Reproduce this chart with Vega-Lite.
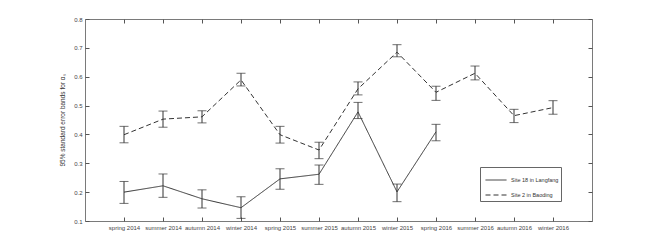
{
  "$schema": "https://vega.github.io/schema/vega-lite/v6.json",
  "width": 507,
  "height": 202,
  "autosize": {"type": "none"},
  "padding": {"left": 85, "top": 19, "right": 62, "bottom": 28},
  "background": "white",
  "config": {
    "font": "Liberation Sans",
    "view": {"stroke": "#7a7a7a", "strokeWidth": 1},
    "axis": {"domain": false, "grid": false, "labelFont": "Liberation Sans", "labelFontSize": 6, "labelColor": "#444", "labelOverlap": false, "labelFlush": false, "labelBound": false, "tickColor": "#555", "tickSize": -4, "titleFont": "Liberation Sans", "titleFontSize": 6.5, "titleFontWeight": "normal", "titleColor": "#333"},
    "axisY": {"labelOverlap": false},
    "axisLeft": {"labelOverlap": false},
    "axisQuantitative": {"labelOverlap": false}
  },
  "data": {"values": [
    {"season": "spring 2014", "site": "Site 18 in Langfang", "v": 0.200, "lo": 0.161, "hi": 0.237},
    {"season": "summer 2014", "site": "Site 18 in Langfang", "v": 0.222, "lo": 0.182, "hi": 0.263},
    {"season": "autumn 2014", "site": "Site 18 in Langfang", "v": 0.177, "lo": 0.145, "hi": 0.208},
    {"season": "winter 2014", "site": "Site 18 in Langfang", "v": 0.146, "lo": 0.109, "hi": 0.184},
    {"season": "spring 2015", "site": "Site 18 in Langfang", "v": 0.246, "lo": 0.210, "hi": 0.281},
    {"season": "summer 2015", "site": "Site 18 in Langfang", "v": 0.262, "lo": 0.227, "hi": 0.294},
    {"season": "autumn 2015", "site": "Site 18 in Langfang", "v": 0.478, "lo": 0.455, "hi": 0.511},
    {"season": "winter 2015", "site": "Site 18 in Langfang", "v": 0.201, "lo": 0.167, "hi": 0.228},
    {"season": "spring 2016", "site": "Site 18 in Langfang", "v": 0.409, "lo": 0.378, "hi": 0.435},
    {"season": "spring 2014", "site": "Site 2 in Baoding", "v": 0.399, "lo": 0.371, "hi": 0.428},
    {"season": "summer 2014", "site": "Site 2 in Baoding", "v": 0.453, "lo": 0.425, "hi": 0.481},
    {"season": "autumn 2014", "site": "Site 2 in Baoding", "v": 0.461, "lo": 0.440, "hi": 0.482},
    {"season": "winter 2014", "site": "Site 2 in Baoding", "v": 0.589, "lo": 0.568, "hi": 0.612},
    {"season": "spring 2015", "site": "Site 2 in Baoding", "v": 0.399, "lo": 0.370, "hi": 0.428},
    {"season": "summer 2015", "site": "Site 2 in Baoding", "v": 0.346, "lo": 0.316, "hi": 0.373},
    {"season": "autumn 2015", "site": "Site 2 in Baoding", "v": 0.558, "lo": 0.537, "hi": 0.582},
    {"season": "winter 2015", "site": "Site 2 in Baoding", "v": 0.685, "lo": 0.669, "hi": 0.711},
    {"season": "spring 2016", "site": "Site 2 in Baoding", "v": 0.546, "lo": 0.518, "hi": 0.567},
    {"season": "summer 2016", "site": "Site 2 in Baoding", "v": 0.612, "lo": 0.589, "hi": 0.637},
    {"season": "autumn 2016", "site": "Site 2 in Baoding", "v": 0.465, "lo": 0.441, "hi": 0.487},
    {"season": "winter 2016", "site": "Site 2 in Baoding", "v": 0.493, "lo": 0.470, "hi": 0.517}
  ]},
  "layer": [
    {
      "encoding": {
        "x": {"field": "season", "type": "ordinal", "scale": {"type": "point", "padding": 1, "domain": ["spring 2014", "summer 2014", "autumn 2014", "winter 2014", "spring 2015", "summer 2015", "autumn 2015", "winter 2015", "spring 2016", "summer 2016", "autumn 2016", "winter 2016"]}, "axis": {"title": null, "labelAngle": 0, "labelPadding": 7, "labelOverlap": false}}
      },
      "layer": [
        {
          "mark": {"type": "rule", "color": "#333", "strokeWidth": 1},
          "encoding": {
            "y": {"field": "lo", "type": "quantitative", "scale": {"domain": [0.1, 0.8], "nice": false, "zero": false}, "axis": {"title": "95% standard error bands for αₛ", "values": [0.1, 0.2, 0.3, 0.4, 0.5, 0.6, 0.7, 0.8], "format": ".1f", "labelPadding": 7, "titlePadding": 8, "labelOverlap": false, "labelFlush": false, "labelBound": false}},
            "y2": {"field": "hi"}
          }
        },
        {
          "mark": {"type": "tick", "color": "#333", "size": 9, "thickness": 1, "orient": "horizontal"},
          "encoding": {"y": {"field": "lo", "type": "quantitative", "axis": {"title": "95% standard error bands for αₛ", "values": [0.1, 0.2, 0.3, 0.4, 0.5, 0.6, 0.7, 0.8], "format": ".1f", "labelPadding": 7, "titlePadding": 8, "labelOverlap": false, "labelFlush": false, "labelBound": false}}}
        },
        {
          "mark": {"type": "tick", "color": "#333", "size": 9, "thickness": 1, "orient": "horizontal"},
          "encoding": {"y": {"field": "hi", "type": "quantitative", "axis": {"title": "95% standard error bands for αₛ", "values": [0.1, 0.2, 0.3, 0.4, 0.5, 0.6, 0.7, 0.8], "format": ".1f", "labelPadding": 7, "titlePadding": 8, "labelOverlap": false, "labelFlush": false, "labelBound": false}}}
        },
        {
          "mark": {"type": "line", "color": "#333", "strokeWidth": 1},
          "encoding": {
            "y": {"field": "v", "type": "quantitative", "axis": {"title": "95% standard error bands for αₛ", "values": [0.1, 0.2, 0.3, 0.4, 0.5, 0.6, 0.7, 0.8], "format": ".1f", "labelPadding": 7, "titlePadding": 8, "labelOverlap": false, "labelFlush": false, "labelBound": false}},
            "strokeDash": {"field": "site", "type": "nominal", "scale": {"domain": ["Site 18 in Langfang", "Site 2 in Baoding"], "range": [[1, 0], [5, 3]]},
              "legend": {"title": null, "orient": "none", "legendX": 395, "legendY": 148, "symbolType": "stroke", "symbolSize": 441, "symbolStrokeWidth": 1, "symbolStrokeColor": "#333", "labelFontSize": 5.5, "labelColor": "#333", "strokeColor": "#666", "fillColor": "white", "padding": 2, "rowPadding": -4, "labelOffset": 4, "symbolOffset": 3}},
            "detail": {"field": "site"}
          }
        }
      ]
    },
    {
      "mark": {"type": "point", "opacity": 0},
      "encoding": {
        "x": {"field": "season", "type": "ordinal", "scale": {"type": "point", "padding": 1, "domain": ["spring 2014", "summer 2014", "autumn 2014", "winter 2014", "spring 2015", "summer 2015", "autumn 2015", "winter 2015", "spring 2016", "summer 2016", "autumn 2016", "winter 2016"]}, "axis": {"orient": "top", "labels": false, "title": null}},
        "y": {"field": "v", "type": "quantitative", "scale": {"domain": [0.1, 0.8], "nice": false, "zero": false}, "axis": {"orient": "right", "labels": false, "title": null, "values": [0.1, 0.2, 0.3, 0.4, 0.5, 0.6, 0.7, 0.8]}}
      }
    }
  ],
  "resolve": {"axis": {"x": "independent", "y": "independent"}}
}
